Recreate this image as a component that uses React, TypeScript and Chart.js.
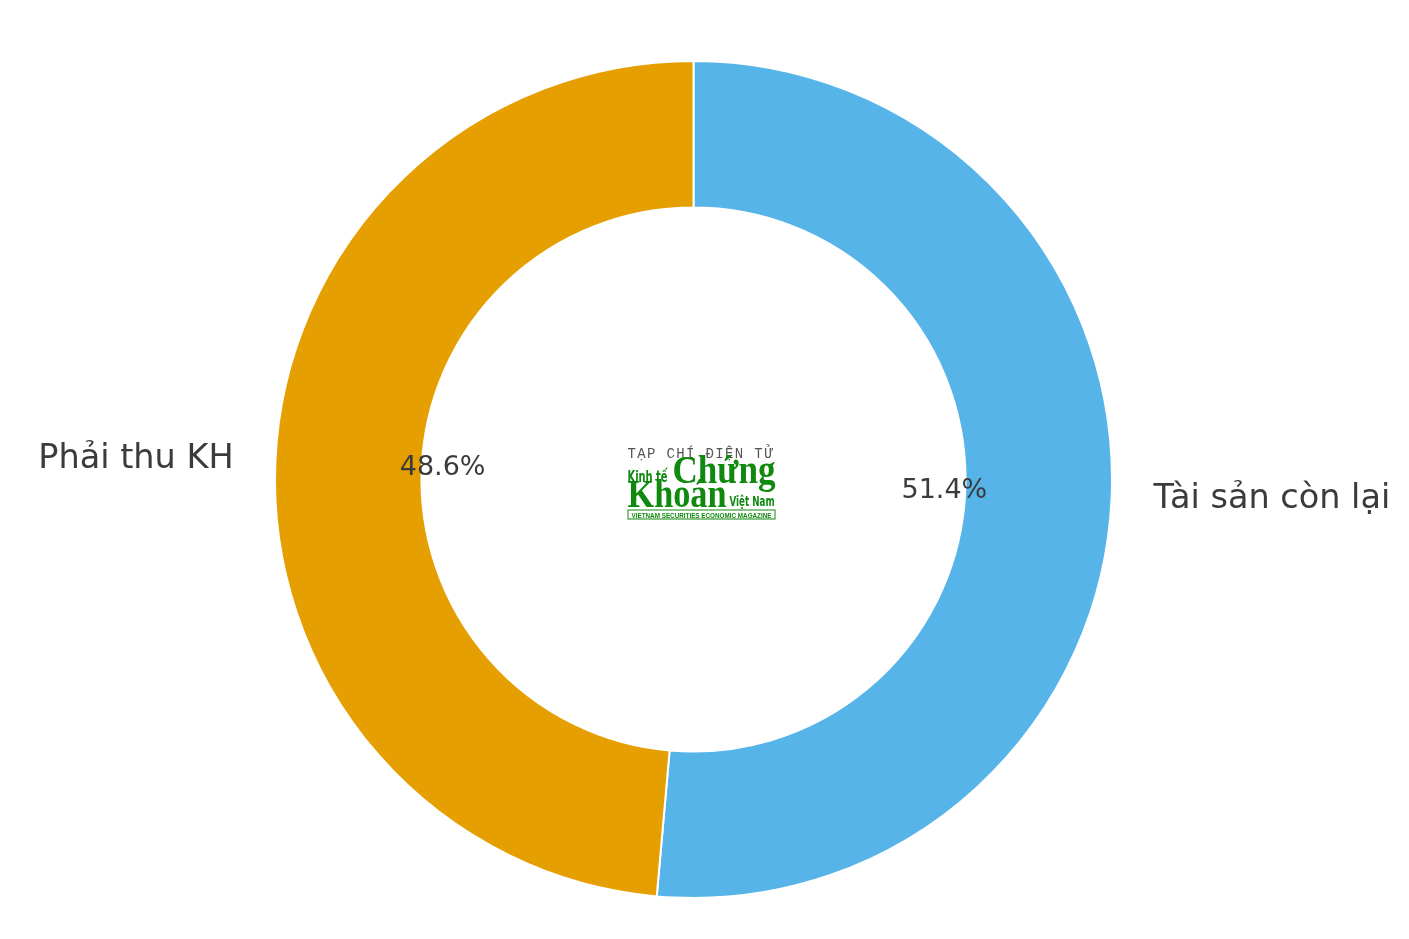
import React, { useEffect, useRef } from "react";
import { Chart, registerables } from "chart.js";

Chart.register(...registerables);

const categories = ["Tài sản còn lại", "Phải thu KH"];
const shares = [51.4, 48.6];
const sliceColors = ["#56B4E9", "#E69F00"];

const labelPlugin = {
  id: "mplLabels",
  afterDraw(chart: any) {
    const ctx = chart.ctx as CanvasRenderingContext2D;
    const meta = chart.getDatasetMeta(0);
    const total = shares.reduce((a, b) => a + b, 0);
    meta.data.forEach((arc: any, i: number) => {
      const mid = (arc.startAngle + arc.endAngle) / 2;
      const r = arc.outerRadius;
      const cx = arc.x;
      const cy = arc.y;
      const cos = Math.cos(mid);
      const sin = Math.sin(mid);
      ctx.save();
      ctx.fillStyle = "#3b3b3b";
      ctx.textBaseline = "middle";
      ctx.font = "33.5px 'DejaVu Sans'";
      ctx.textAlign = cos >= 0 ? "left" : "right";
      ctx.fillText(categories[i], cx + 1.1 * r * cos, cy + 1.1 * r * sin);
      ctx.font = "27px 'DejaVu Sans'";
      ctx.textAlign = "center";
      const pct = ((shares[i] / total) * 100).toFixed(1) + "%";
      ctx.fillText(pct, cx + 0.6 * r * cos, cy + 0.6 * r * sin);
      ctx.restore();
    });
    // center logo
    const a = meta.data[0];
    const ox = a.x - 66;
    const oy = a.y - 34;
    const green = "#10890f";
    ctx.save();
    ctx.textBaseline = "alphabetic";
    ctx.textAlign = "left";
    ctx.fillStyle = "#555";
    ctx.font = "14px 'Liberation Mono'";
    const head = "TẠP CHÍ ĐIỆN TỬ";
    for (let k = 0; k < head.length; k++) {
      ctx.fillText(head[k], ox + k * 9.75, oy + 12);
    }
    ctx.fillStyle = green;
    ctx.font = "bold 15px 'DejaVu Sans Condensed'";
    ctx.fillText("Kinh tế", ox, oy + 36, 40);
    ctx.font = "bold 40px 'Liberation Serif'";
    ctx.fillText("Chứng", ox + 45, oy + 37, 103);
    ctx.fillText("Khoán", ox, oy + 61, 99);
    ctx.font = "bold 14px 'DejaVu Sans Condensed'";
    ctx.fillText("Việt Nam", ox + 102, oy + 60, 45);
    ctx.strokeStyle = green;
    ctx.lineWidth = 1;
    ctx.strokeRect(ox + 0.5, oy + 64.5, 147, 9);
    ctx.font = "bold 7px 'Liberation Sans'";
    ctx.fillText("VIETNAM SECURITIES ECONOMIC MAGAZINE", ox + 4, oy + 72, 140);
    ctx.restore();
  },
};

export default function App() {
  const ref = useRef<HTMLCanvasElement>(null);
  useEffect(() => {
    document.body.style.margin = "0";
    const chart = new Chart(ref.current!, {
      type: "doughnut",
      data: {
        labels: categories,
        datasets: [
          {
            data: shares,
            backgroundColor: sliceColors,
            borderColor: "#ffffff",
            borderWidth: 2,
            hoverOffset: 0,
          },
        ],
      },
      options: {
        animation: false,
        responsive: false,
        cutout: "65%",
        layout: { padding: { left: 274, right: 296, top: 60, bottom: 40 } },
        plugins: { legend: { display: false }, tooltip: { enabled: false } },
      },
      plugins: [labelPlugin],
    });
    return () => chart.destroy();
  }, []);
  return (
    <div style={{ width: 1409, height: 939, background: "#fff" }}>
      <canvas ref={ref} width={1409} height={939} />
    </div>
  );
}
